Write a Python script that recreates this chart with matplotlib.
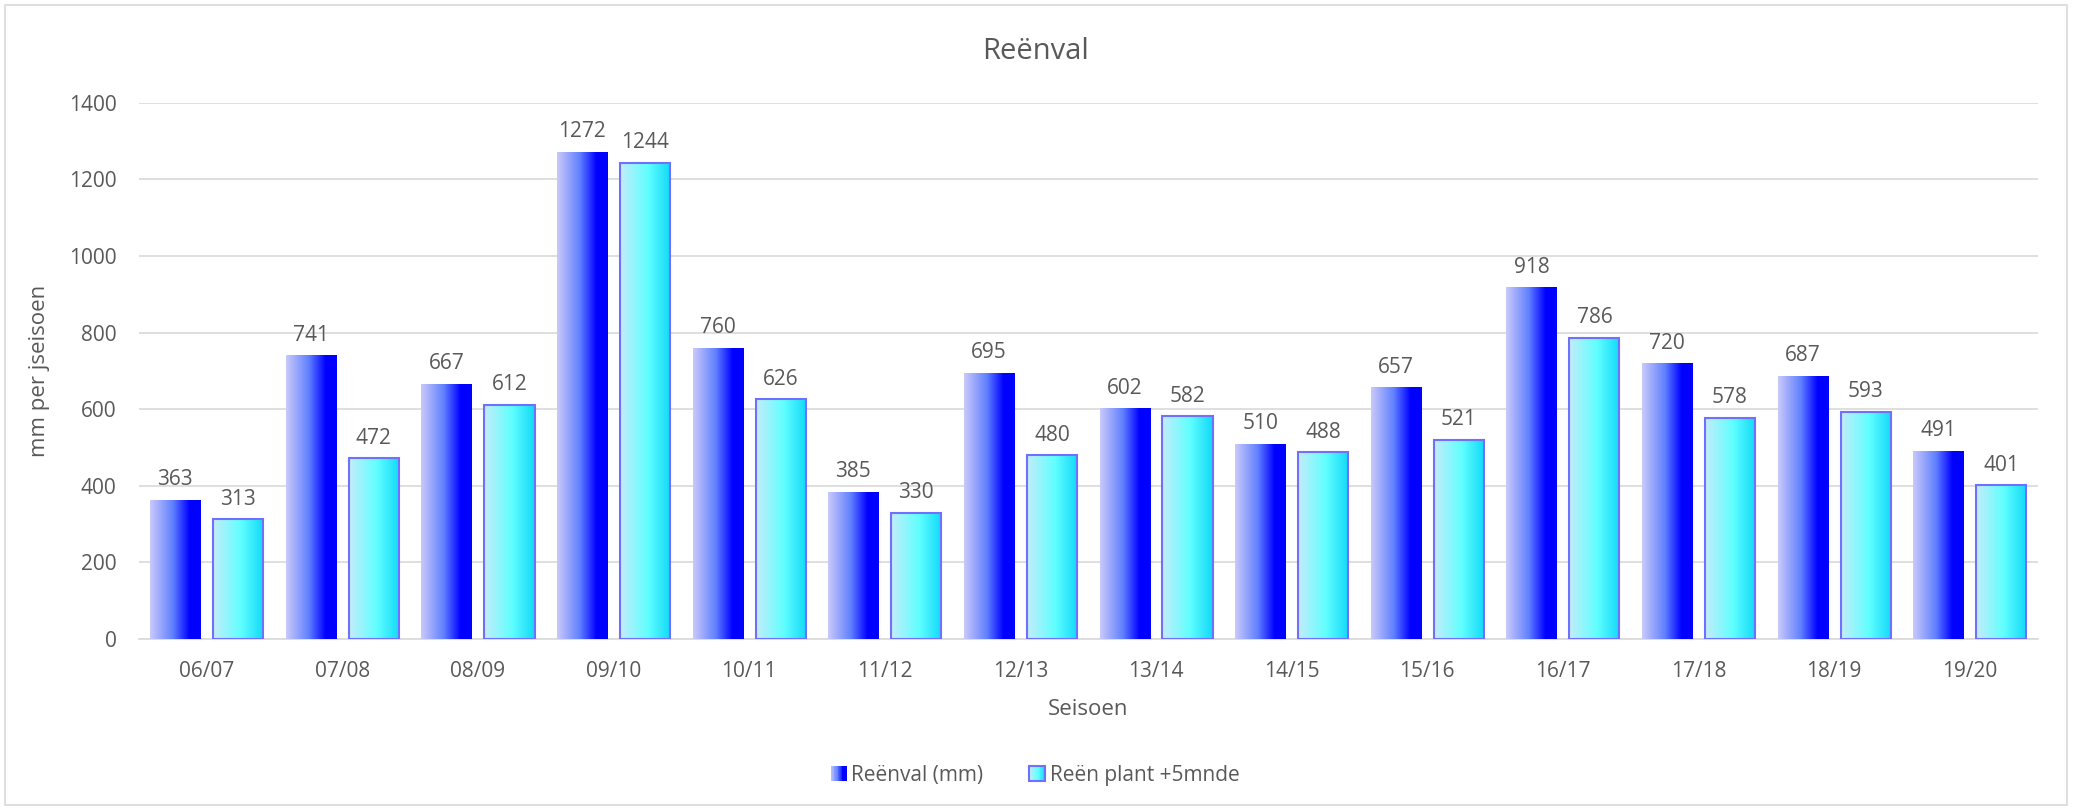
import numpy as np
import matplotlib.pyplot as plt
from matplotlib.colors import LinearSegmentedColormap
from matplotlib.patches import Rectangle
from matplotlib.legend_handler import HandlerBase

plt.rcParams["font.family"] = ["Open Sans", "DejaVu Sans"]

seasons = ["06/07", "07/08", "08/09", "09/10", "10/11", "11/12", "12/13",
           "13/14", "14/15", "15/16", "16/17", "17/18", "18/19", "19/20"]
rainfall = [363, 741, 667, 1272, 760, 385, 695, 602, 510, 657, 918, 720, 687, 491]
rain_plant = [313, 472, 612, 1244, 626, 330, 480, 582, 488, 521, 786, 578, 593, 401]
series_names = ["Reënval (mm)", "Reën plant +5mnde"]

TEXT = "#595959"
GRID = "#d9d9d9"

cmap_rain = LinearSegmentedColormap.from_list(
    "rain", [(0, "#cacafa"), (0.45, "#6080ff"), (0.78, "#0000ff"), (1, "#0000ff")])
cmap_plant = LinearSegmentedColormap.from_list(
    "plant", [(0, "#c4ecfa"), (0.55, "#60ffff"), (1, "#10d8f8")])
EDGE_PLANT = "#7070ff"

fig = plt.figure(figsize=(20.83, 8.09), dpi=100)
ax = fig.add_axes([0.0667, 0.21, 0.9115, 0.663])

# light frame round the whole chart
fig.patches.append(Rectangle((5 / 2083, 4 / 809), 2062 / 2083, 800 / 809,
                             transform=fig.transFigure, fill=False,
                             edgecolor=GRID, lw=1.2))

x = np.arange(len(seasons))
width = 0.37
off = 0.232

bars1 = ax.bar(x - off, rainfall, width, color="none", zorder=2)
bars2 = ax.bar(x + off, rain_plant, width, color="none", edgecolor=EDGE_PLANT,
               lw=1.5, zorder=4)

grad = np.linspace(0, 1, 256).reshape(1, -1)


def fill_gradient(bars, cmap):
    for b in bars:
        x0, y0 = b.get_x(), b.get_y()
        w, h = b.get_width(), b.get_height()
        im = ax.imshow(grad, cmap=cmap, aspect="auto",
                       extent=(x0, x0 + w, y0, y0 + h), zorder=3,
                       interpolation="bilinear")
        im.set_clip_path(b)


fill_gradient(bars1, cmap_rain)
fill_gradient(bars2, cmap_plant)

for xi, v in zip(x - off, rainfall):
    ax.text(xi, v + 25, str(v), ha="center", va="bottom", fontsize=15, color=TEXT)
for xi, v in zip(x + off, rain_plant):
    ax.text(xi, v + 25, str(v), ha="center", va="bottom", fontsize=15, color=TEXT)

ax.set_xlim(-0.5, len(seasons) - 0.5)
ax.set_ylim(0, 1400)
ax.set_yticks(range(0, 1401, 200))
ax.set_xticks(x)
ax.set_xticklabels(seasons)
ax.tick_params(length=0, labelsize=15, labelcolor=TEXT)
ax.tick_params(axis="y", pad=16)
ax.tick_params(axis="x", pad=16)
ax.grid(axis="y", color=GRID, lw=1.2)
ax.set_axisbelow(True)
for s in ["top", "right", "left"]:
    ax.spines[s].set_visible(False)
ax.spines["bottom"].set_color(GRID)
ax.spines["bottom"].set_linewidth(1.2)

ax.set_xlabel("Seisoen", fontsize=16, color=TEXT, labelpad=12)
ax.set_ylabel("mm per jseisoen", fontsize=16, color=TEXT, labelpad=14)
fig.text(0.497, 0.936, "Reënval", ha="center", va="center", fontsize=21, color=TEXT)


class GradientHandler(HandlerBase):
    def __init__(self, cmap, edge=None):
        super().__init__()
        self.cmap = cmap
        self.edge = edge

    def create_artists(self, legend, orig_handle, xdescent, ydescent,
                       width, height, fontsize, trans):
        n = 20
        arts = []
        for i in range(n):
            arts.append(Rectangle((-xdescent + width * i / n, -ydescent), width / n + 0.3,
                                  height, facecolor=self.cmap((i + 0.5) / n),
                                  edgecolor="none", transform=trans))
        if self.edge:
            arts.append(Rectangle((-xdescent, -ydescent), width, height, fill=False,
                                  edgecolor=self.edge, lw=1.5, transform=trans))
        return arts


h1, h2 = Rectangle((0, 0), 1, 1), Rectangle((0, 0), 1, 1)
fig.legend([h1, h2], series_names, loc="center", bbox_to_anchor=(0.497, 0.042),
           ncol=2, frameon=False, fontsize=15, labelcolor=TEXT,
           handlelength=0.75, handleheight=0.75, handletextpad=0.25, columnspacing=2.2,
           handler_map={h1: GradientHandler(cmap_rain),
                        h2: GradientHandler(cmap_plant, EDGE_PLANT)})

fig.savefig("out.png", dpi=100)
